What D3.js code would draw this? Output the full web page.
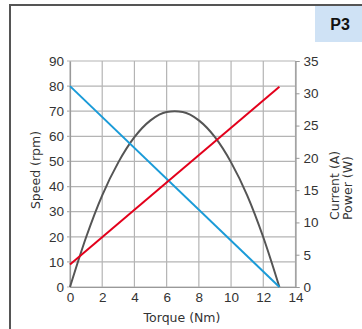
<!DOCTYPE html>
<html><head><meta charset="utf-8">
<script src="https://cdn.jsdelivr.net/npm/d3@7"></script>
<style>body{margin:0;background:#fff}svg{display:block}</style>
</head><body>
<script>
const speedTorque = [0, 13];
const speedValues = [80, 0];
const currentTorque = [0, 13];
const currentValues = [3.5, 31];
const powerTorque = [0,1,2,3,4,5,6,6.5,7,8,9,10,11,12,13];
const powerValues = [0,7.7,14.2,19.3,23.2,25.8,27.1,27.2,27.1,25.8,23.2,19.3,14.2,7.7,0];
const xTicks = [0,2,4,6,8,10,12,14];
const leftTicks = [0,10,20,30,40,50,60,70,80,90];
const rightTicks = [0,5,10,15,20,25,30,35];

const W=362,H=329;
const svg=d3.select("body").append("svg").attr("width",W).attr("height",H);
const x=d3.scaleLinear().domain([0,14]).range([70,295.5]);
const yL=d3.scaleLinear().domain([0,90]).range([287,61]);
const yR=d3.scaleLinear().domain([0,35]).range([287,61]);

// frame
svg.append("line").attr("x1",10).attr("x2",10).attr("y1",4).attr("y2",H).attr("stroke","#555").attr("stroke-width",2);
svg.append("line").attr("x1",9).attr("x2",W).attr("y1",5).attr("y2",5).attr("stroke","#555").attr("stroke-width",2);
svg.append("rect").attr("x",315).attr("y",6).attr("width",47).attr("height",36).attr("fill","#cfe2f5");
svg.append("text").attr("x",340).attr("y",30).attr("text-anchor","middle").attr("font-family","Liberation Sans, Arial").attr("font-weight","bold").attr("font-size",16).attr("fill","#111").text("P3");

const grid="#b4b4b4";
const g=svg.append("g");
g.selectAll(".vg").data(xTicks).join("line").attr("x1",d=>x(d)).attr("x2",d=>x(d)).attr("y1",61).attr("y2",287).attr("stroke",grid).attr("stroke-width",1.2);
g.selectAll(".hg").data(leftTicks).join("line").attr("x1",67).attr("x2",295.5).attr("y1",d=>yL(d)).attr("y2",d=>yL(d)).attr("stroke",grid).attr("stroke-width",1.2);

// axes
const tickFont="Liberation Sans, Arial, sans-serif";
const ax=svg.append("g").attr("transform","translate(0,287)").call(d3.axisBottom(x).tickValues(xTicks).tickSize(0).tickPadding(5));
const ayl=svg.append("g").attr("transform","translate(70,0)").call(d3.axisLeft(yL).tickValues(leftTicks).tickSize(0).tickPadding(6));
const ayr=svg.append("g").attr("transform","translate(295.5,0)").call(d3.axisRight(yR).tickValues(rightTicks).tickSize(4).tickPadding(4));
[ax,ayl,ayr].forEach(a=>{a.select(".domain").attr("stroke","#999").attr("stroke-width",1.2);a.selectAll(".tick line").attr("stroke","#999");a.selectAll("text").attr("font-family",tickFont).attr("font-size",13.5).attr("fill","#333");});

// lines
const lineL=d3.line().x(d=>x(d[0])).y(d=>yL(d[1]));
const lineR=d3.line().x(d=>x(d[0])).y(d=>yR(d[1]));
const lineRc=d3.line().x(d=>x(d[0])).y(d=>yR(d[1])).curve(d3.curveMonotoneX);
svg.append("path").attr("d",lineRc(powerTorque.map((t,i)=>[t,powerValues[i]]))).attr("fill","none").attr("stroke","#555").attr("stroke-width",2);
svg.append("path").attr("d",lineL(speedTorque.map((t,i)=>[t,speedValues[i]]))).attr("fill","none").attr("stroke","#1a9bd8").attr("stroke-width",2);
svg.append("path").attr("d",lineR(currentTorque.map((t,i)=>[t,currentValues[i]]))).attr("fill","none").attr("stroke","#e3001b").attr("stroke-width",2);

// titles
const tf="DejaVu Sans, Verdana, sans-serif";
const tc="#333", ts=12.5;
svg.append("text").attr("x",182).attr("y",322).attr("text-anchor","middle").attr("font-family",tf).attr("font-size",ts).attr("fill",tc).text("Torque (Nm)");
svg.append("text").attr("transform","translate(40,170) rotate(-90)").attr("text-anchor","middle").attr("font-family",tf).attr("font-size",ts).attr("fill",tc).text("Speed (rpm)");
svg.append("text").attr("transform","translate(339,220) rotate(-90)").attr("text-anchor","start").attr("font-family",tf).attr("font-size",ts).attr("fill",tc).text("Current (A)");
svg.append("text").attr("transform","translate(352,220) rotate(-90)").attr("text-anchor","start").attr("font-family",tf).attr("font-size",ts).attr("fill",tc).text("Power (W)");
</script>
</body></html>
